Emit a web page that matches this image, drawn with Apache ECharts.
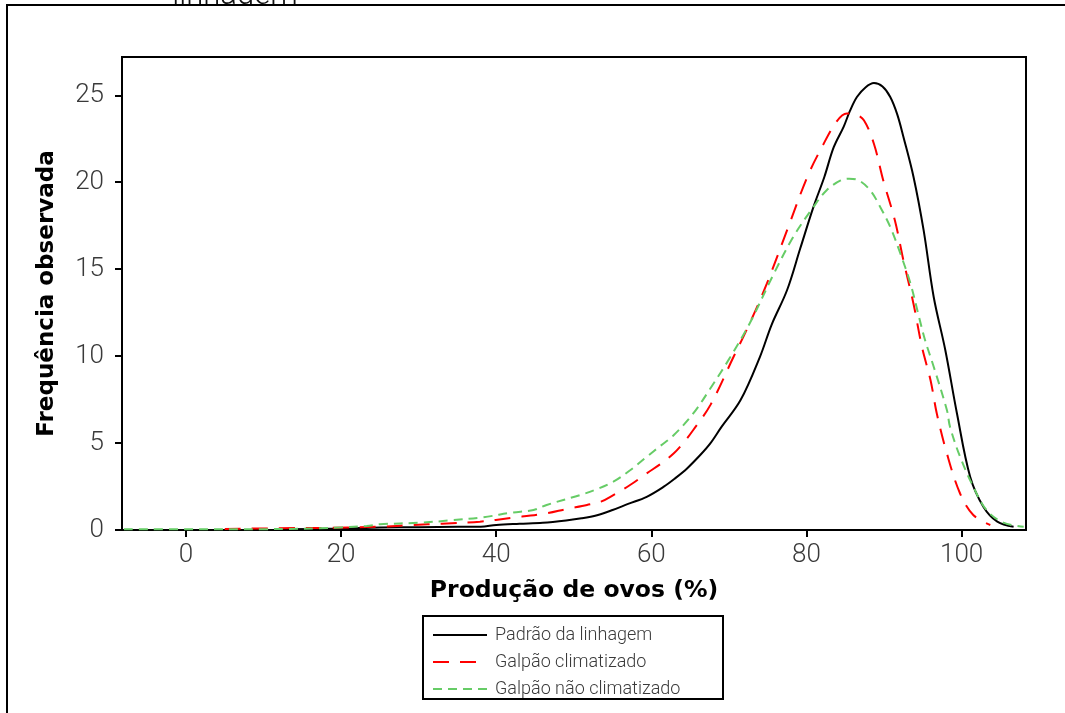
<!DOCTYPE html>
<html>
<head>
<meta charset="utf-8">
<script src="https://cdn.jsdelivr.net/npm/echarts@6/dist/echarts.min.js"></script>
<style>
  html, body { margin: 0; padding: 0; background: #fff; }
  #chart { width: 1065px; height: 713px; }
</style>
</head>
<body>
<div id="chart"></div>
<script>
// Tick positions
const xTicks = [0, 20, 40, 60, 80, 100];
const yTicks = [0, 5, 10, 15, 20, 25];

// Series names
const seriesNames = ['Padrão da linhagem', 'Galpão climatizado', 'Galpão não climatizado'];

// Padrão da linhagem
const padraoX = [12, 20, 25, 30, 35, 38, 40, 43, 46, 49, 51, 53, 55, 57, 59.4, 61.6, 63, 64.6, 66.3, 67.6, 69, 71.5, 74, 75.5, 77.5, 79.2, 80.9, 82.3, 83.5, 84.8, 85.6, 86.5, 87.6, 88.7, 89.8, 90.8, 91.7, 92.5, 93.8, 95.1, 96.4, 97.9, 99.4, 101.1, 102.8, 104.6, 106.7];
const padraoY = [0.05, 0.08, 0.15, 0.16, 0.18, 0.19, 0.29, 0.36, 0.42, 0.55, 0.67, 0.85, 1.15, 1.5, 1.91, 2.49, 2.95, 3.54, 4.31, 4.98, 5.9, 7.47, 9.96, 11.8, 13.8, 16.2, 18.58, 20.3, 22.0, 23.2, 24.1, 24.9, 25.45, 25.7, 25.5, 24.9, 23.9, 22.6, 20.3, 17.24, 13.4, 10.34, 6.7, 3.06, 1.34, 0.48, 0.19];

// Galpão climatizado
const climX = [5, 12, 19, 25, 29.3, 33, 37.9, 42, 46.5, 49, 51.7, 53.5, 55.1, 57.3, 59.4, 61.2, 62.9, 64.2, 65.4, 67.6, 70.6, 72.8, 74.9, 77.5, 80.1, 82.0, 83.9, 85.2, 86.3, 87.4, 88.7, 89.9, 91.4, 92.5, 93.8, 94.9, 96.0, 96.8, 98.1, 99.8, 101.5, 103.7];
const climY = [0.06, 0.1, 0.13, 0.19, 0.29, 0.36, 0.48, 0.7, 0.96, 1.2, 1.44, 1.63, 2.01, 2.6, 3.26, 3.8, 4.41, 5.05, 5.75, 7.18, 9.96, 12.0, 14.18, 17.24, 20.3, 22.03, 23.5, 23.95, 23.9, 23.56, 22.2, 20.1, 17.8, 15.5, 13.0, 10.5, 8.6, 6.7, 4.4, 2.1, 0.86, 0.29];

// Galpão não climatizado
const naoClimX = [-8, 0, 10, 13, 17, 20, 23.3, 25, 30.2, 34, 38.3, 42, 44.8, 46.5, 50.8, 53, 55.1, 57.3, 59.4, 61.2, 62.9, 65.4, 67.6, 70.2, 72.7, 75.8, 78.3, 80.9, 82.6, 84.4, 85.5, 86.5, 88.2, 89.5, 90.8, 92.1, 93.4, 94.5, 95.3, 96.4, 98.1, 98.5, 99.8, 101.5, 103.2, 105.4, 108];
const naoClimY = [0.05, 0.05, 0.05, 0.06, 0.1, 0.15, 0.23, 0.33, 0.42, 0.55, 0.73, 1.0, 1.15, 1.44, 2.01, 2.35, 2.78, 3.45, 4.21, 4.85, 5.46, 6.7, 8.14, 9.96, 11.9, 14.75, 16.86, 18.58, 19.54, 20.1, 20.2, 20.15, 19.54, 18.58, 17.43, 15.9, 14.18, 12.26, 10.9, 9.39, 6.9, 5.94, 4.21, 2.49, 1.15, 0.42, 0.19];

function pairs(xs, ys) { return xs.map((x, i) => [x, ys[i]]); }

const labelFont = 'Roboto, "Liberation Sans", sans-serif';
const titleFont = '"DejaVu Sans", Verdana, sans-serif';

const chart = echarts.init(document.getElementById('chart'), null, { renderer: 'canvas' });

const lineBase = {
  type: 'line',
  symbol: 'none',
  smooth: 0.35,
  animation: false
};

chart.setOption({
  animation: false,
  backgroundColor: '#fff',
  grid: {
    left: 122, right: 39, top: 57, bottom: 183,
    show: true, borderColor: '#000', borderWidth: 2, backgroundColor: 'transparent'
  },
  xAxis: {
    type: 'value',
    min: -8.25, max: 108.3,
    axisLine: { show: true, onZero: false, lineStyle: { color: '#000', width: 2 } },
    axisTick: { show: true, length: 7, customValues: xTicks, lineStyle: { color: '#000', width: 2 } },
    axisLabel: { customValues: xTicks, color: '#3a3a3a', fontSize: 26, fontFamily: labelFont, fontWeight: 300, margin: 12 },
    splitLine: { show: false },
    name: 'Produção de ovos (%)',
    nameLocation: 'middle',
    nameGap: 49,
    nameTextStyle: { color: '#000', fontSize: 23.5, fontWeight: 'bold', fontFamily: titleFont }
  },
  yAxis: {
    type: 'value',
    min: 0, max: 27.2,
    axisLine: { show: true, onZero: false, lineStyle: { color: '#000', width: 2 } },
    axisTick: { show: true, length: 7, customValues: yTicks, lineStyle: { color: '#000', width: 2 } },
    axisLabel: { customValues: yTicks, color: '#3a3a3a', fontSize: 26, fontFamily: labelFont, fontWeight: 300, margin: 18 },
    splitLine: { show: false },
    name: 'Frequência observada',
    nameLocation: 'middle',
    nameRotate: 90,
    nameGap: 63,
    nameTextStyle: { color: '#000', fontSize: 23, fontWeight: 'bold', fontFamily: titleFont }
  },
  legend: {
    orient: 'vertical',
    left: 432, top: 625,
    itemWidth: 54, itemHeight: 14, itemGap: 7,
    padding: 0,
    selectedMode: false,
    itemStyle: { opacity: 0 },
    textStyle: { color: '#3a3a3a', fontSize: 18, fontFamily: labelFont, fontWeight: 300, lineHeight: 20, padding: [0, 0, 0, 3] },
    data: seriesNames
  },
  graphic: [
    {
      type: 'text', z: 1,
      style: { text: 'linhagem', x: 235, y: 12, align: 'center', verticalAlign: 'bottom', fill: '#111', font: '300 31px Roboto, sans-serif' }
    },
    {
      type: 'rect', z: 2,
      shape: { x: 150, y: 6, width: 180, height: 30 },
      style: { fill: '#fff' }
    },
    {
      type: 'rect', z: 3,
      shape: { x: 7, y: 5, width: 1100, height: 800 },
      style: { fill: 'none', stroke: '#000', lineWidth: 2 }
    },
    {
      type: 'rect', z: 3,
      shape: { x: 423, y: 616, width: 300, height: 83 },
      style: { fill: 'none', stroke: '#000', lineWidth: 2 }
    }
  ],
  series: [
    Object.assign({}, lineBase, {
      name: seriesNames[0],
      data: pairs(padraoX, padraoY),
      color: '#000',
      lineStyle: { color: '#000', width: 2, type: 'solid' }
    }),
    Object.assign({}, lineBase, {
      name: seriesNames[1],
      data: pairs(climX, climY),
      color: '#ff0000',
      lineStyle: { color: '#ff0000', width: 2, type: [16, 11] }
    }),
    Object.assign({}, lineBase, {
      name: seriesNames[2],
      data: pairs(naoClimX, naoClimY),
      color: '#66cc66',
      lineStyle: { color: '#66cc66', width: 2, type: [9, 6] }
    })
  ]
});
</script>
</body>
</html>
